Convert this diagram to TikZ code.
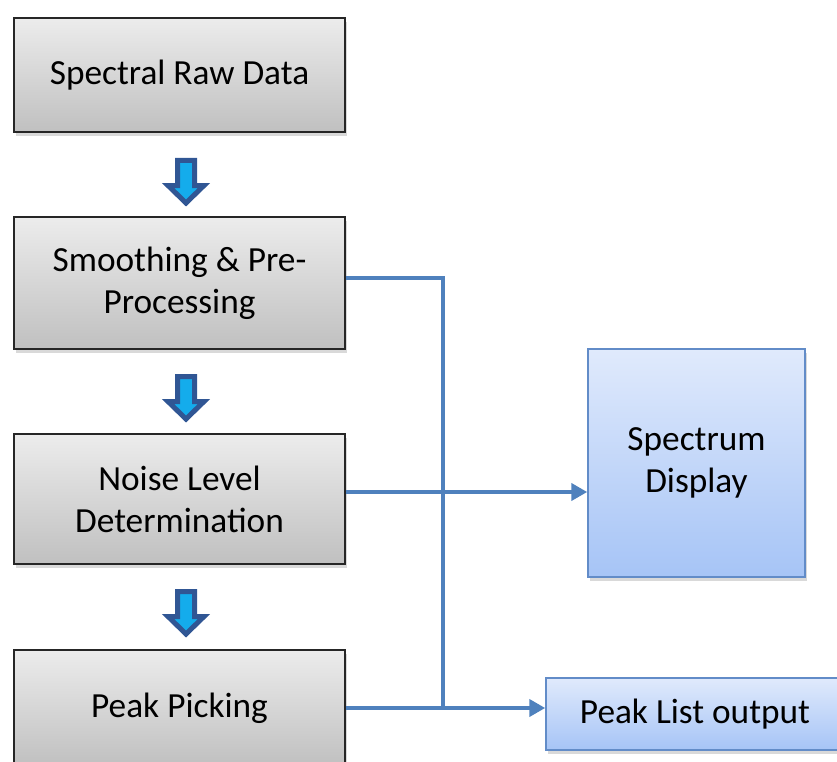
\documentclass[tikz,border=0pt]{standalone}
\usepackage{fontspec}
\setmainfont{Carlito}
\usetikzlibrary{arrows.meta, positioning, shadows}

\definecolor{stageline}{RGB}{38,38,38}
\definecolor{stagetop}{RGB}{236,236,236}
\definecolor{stagebot}{RGB}{192,192,192}
\definecolor{outline}{RGB}{98,140,200}
\definecolor{outtop}{RGB}{224,234,252}
\definecolor{outbot}{RGB}{166,196,246}
\definecolor{linkblue}{RGB}{79,129,189}
\definecolor{stepedge}{RGB}{48,86,148}
\definecolor{stepfill}{RGB}{20,172,236}

\begin{document}
\begin{tikzpicture}[
			x=1pt, y=-1pt,
			stage/.style={draw=stageline, line width=1.5pt, top color=stagetop, bottom color=stagebot, minimum width=331pt, align=center, drop shadow={shadow xshift=2pt, shadow yshift=-4pt, opacity=0.3}},
			outbox/.style={draw=outline, line width=1.5pt, top color=outtop, bottom color=outbot, align=center, drop shadow={shadow xshift=2pt, shadow yshift=-4pt, opacity=0.3}},
			link/.style={draw=linkblue, line width=4.5pt},
			flow/.style={link, -{Triangle[length=16pt, width=17pt]}},
			stepdown/.style={draw=stepedge, fill=stepfill, line width=5pt, line join=miter},
			font=\fontsize{35.3}{42}\selectfont
			]
			\useasboundingbox (0,0) rectangle (837,762);
			
			\node[stage, minimum height=114pt] (raw) at (179.5,75) {Spectral Raw Data};
			\node[stage, minimum height=132pt] (smooth) at (179.5,283) {Smoothing \& Pre-\\Processing};
			\node[stage, minimum height=130pt] (noise) at (179.5,499) {Noise Level\\Determination};
			\node[stage, minimum height=116pt] (peak) at (179.5,708) {Peak Picking};
			
			\node[outbox, minimum width=217pt, minimum height=228pt] (display) at (696.5,463) {Spectrum\\Display};
			\node[outbox, minimum width=298pt, minimum height=72pt] (peaklist) at (695,714) {Peak List output};
			
			% block arrows between the stages
			\foreach \y in {158,374,589}
			\draw[stepdown] (177.5,\y+2.5) -- (194.5,\y+2.5) -- (194.5,\y+27.5) -- (204,\y+27.5) -- (186,\y+45) -- (168,\y+27.5) -- (177.5,\y+27.5) -- cycle;
			
			\coordinate (bus) at (443,0);
			\coordinate (nz) at ([yshift=7pt]noise.east);
			
			\draw[link] ([yshift=5pt]smooth.east) -| (bus |- peak.east);
			\draw[flow] (nz) -- (nz -| display.west);
			\draw[flow] (peak.east) -- (peak.east -| peaklist.west);
			
		\end{tikzpicture}
\end{document}
